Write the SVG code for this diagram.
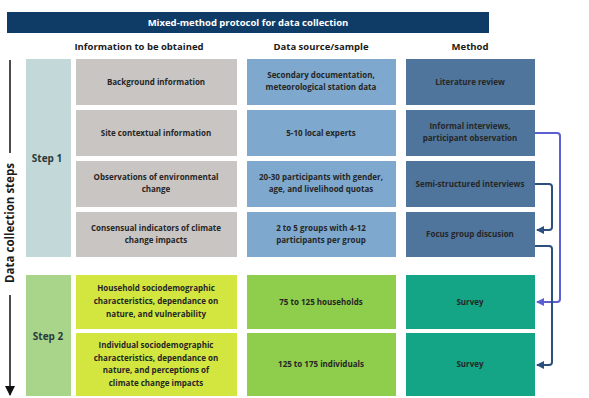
<svg xmlns="http://www.w3.org/2000/svg" width="589" height="398" viewBox="0 0 589 398">
<defs>
<style>
text{font-family:"Open Sans","Liberation Sans",sans-serif;font-weight:bold;text-anchor:middle}
.c{font-size:8px;fill:#262626}
.h{font-size:9.5px;fill:#1a1a1a}
.t{font-size:9.5px;fill:#ffffff}
.s{font-size:10px;fill:#2b3b3b}
.info{fill:#c9c5c3}
.data{fill:#7ea8cd}
.meth{fill:#4f759c}
.info2{fill:#d3e63f}
.data2{fill:#8fcd4c}
.meth2{fill:#13a585}
.conn{fill:none;stroke-width:2}
</style>
<marker id="ad" markerWidth="8" markerHeight="8" refX="7" refY="4" orient="auto" markerUnits="userSpaceOnUse"><path d="M0,0 L8,4 L0,8 Z" fill="#2d4f7d"/></marker>
<marker id="ap" markerWidth="8" markerHeight="8" refX="7" refY="4" orient="auto" markerUnits="userSpaceOnUse"><path d="M0,0 L8,4 L0,8 Z" fill="#5b5fd2"/></marker>
<marker id="ak" markerWidth="10" markerHeight="10" refX="9" refY="5" orient="auto" markerUnits="userSpaceOnUse"><path d="M0,0 L10,5 L0,10 Z" fill="#111"/></marker>
</defs>
<rect width="589" height="398" fill="#ffffff"/>
<g id="title">
<rect x="7" y="12" width="482" height="21" fill="#0f3c67"/>
<text class="t" x="248" y="26">Mixed-method protocol for data collection</text>
</g>
<g id="headers">
<text class="h" x="139" y="50">Information to be obtained</text>
<text class="h" x="321" y="50">Data source/sample</text>
<text class="h" x="470" y="50">Method</text>
</g>
<g id="axis">
<line x1="10" y1="60" x2="10" y2="153" stroke="#111" stroke-width="1.5"/>
<text x="14" y="223" transform="rotate(-90 14 223)" style="font-size:11.5px;fill:#1a1a1a">Data collection steps</text>
<line x1="10" y1="295" x2="10" y2="395" stroke="#111" stroke-width="1.5" marker-end="url(#ak)"/>
</g>
<g id="step1"><rect x="26" y="59" width="45" height="198" fill="#c3d9d9"/><text class="s" x="47" y="162">Step 1</text></g>
<g id="step2"><rect x="26" y="275" width="45" height="121" fill="#a9d58b"/><text class="s" x="48" y="340">Step 2</text></g>

<g id="info1"><rect class="info" x="76" y="59" width="161" height="46"/><text class="c" x="156" y="85">Background information</text></g>
<g id="info2"><rect class="info" x="76" y="110" width="161" height="46"/><text class="c" x="156" y="136">Site contextual information</text></g>
<g id="info3"><rect class="info" x="76" y="161" width="161" height="46"/><text class="c" x="156" y="180">Observations of environmental</text><text class="c" x="156" y="192">change</text></g>
<g id="info4"><rect class="info" x="76" y="212" width="161" height="45"/><text class="c" x="156" y="231">Consensual indicators of climate</text><text class="c" x="156" y="243">change impacts</text></g>
<g id="info5"><rect class="info2" x="76" y="275" width="161" height="54"/><text class="c" x="156" y="291">Household sociodemographic</text><text class="c" x="156" y="304">characteristics, dependance on</text><text class="c" x="156" y="317">nature, and vulnerability</text></g>
<g id="info6"><rect class="info2" x="76" y="333" width="161" height="63"/><text class="c" x="156" y="348">Individual sociodemographic</text><text class="c" x="156" y="360.5">characteristics, dependance on</text><text class="c" x="156" y="373">nature, and perceptions of</text><text class="c" x="156" y="385.5">climate change impacts</text></g>

<g id="data1"><rect class="data" x="247" y="59" width="149" height="46"/><text class="c" x="321" y="78">Secondary documentation,</text><text class="c" x="321" y="90">meteorological station data</text></g>
<g id="data2"><rect class="data" x="247" y="110" width="149" height="46"/><text class="c" x="321" y="136">5-10 local experts</text></g>
<g id="data3"><rect class="data" x="247" y="161" width="149" height="46"/><text class="c" x="321" y="180">20-30 participants with gender,</text><text class="c" x="321" y="192">age, and livelihood quotas</text></g>
<g id="data4"><rect class="data" x="247" y="212" width="149" height="45"/><text class="c" x="321" y="231">2 to 5 groups with 4-12</text><text class="c" x="321" y="243">participants per group</text></g>
<g id="data5"><rect class="data2" x="247" y="275" width="149" height="54"/><text class="c" x="321" y="305">75 to 125 households</text></g>
<g id="data6"><rect class="data2" x="247" y="333" width="149" height="63"/><text class="c" x="321" y="367">125 to 175 individuals</text></g>

<g id="meth1"><rect class="meth" x="406" y="59" width="129" height="46"/><text class="c" x="470" y="85">Literature review</text></g>
<g id="meth2"><rect class="meth" x="406" y="110" width="129" height="46"/><text class="c" x="470" y="129">Informal interviews,</text><text class="c" x="470" y="141">participant observation</text></g>
<g id="meth3"><rect class="meth" x="406" y="161" width="129" height="46"/><text class="c" x="470" y="187">Semi-structured interviews</text></g>
<g id="meth4"><rect class="meth" x="406" y="212" width="129" height="45"/><text class="c" x="470" y="237">Focus group discusion</text></g>
<g id="meth5"><rect class="meth2" x="406" y="275" width="129" height="54"/><text class="c" x="470" y="305">Survey</text></g>
<g id="meth6"><rect class="meth2" x="406" y="333" width="129" height="63"/><text class="c" x="470" y="367">Survey</text></g>

<g id="connectors">
<path class="conn" d="M535,133 H557 Q560,133 560,136 V299 Q560,302 557,302 H537" stroke="#5b5fd2" marker-end="url(#ap)"/>
<path class="conn" d="M535,184 H549 Q552,184 552,187 V227 Q552,230 549,230 H537" stroke="#2d4f7d" marker-end="url(#ad)"/>
<path class="conn" d="M535,246 H549 Q552,246 552,249 V362 Q552,365 549,365 H537" stroke="#2d4f7d" marker-end="url(#ad)"/>
</g>
</svg>
